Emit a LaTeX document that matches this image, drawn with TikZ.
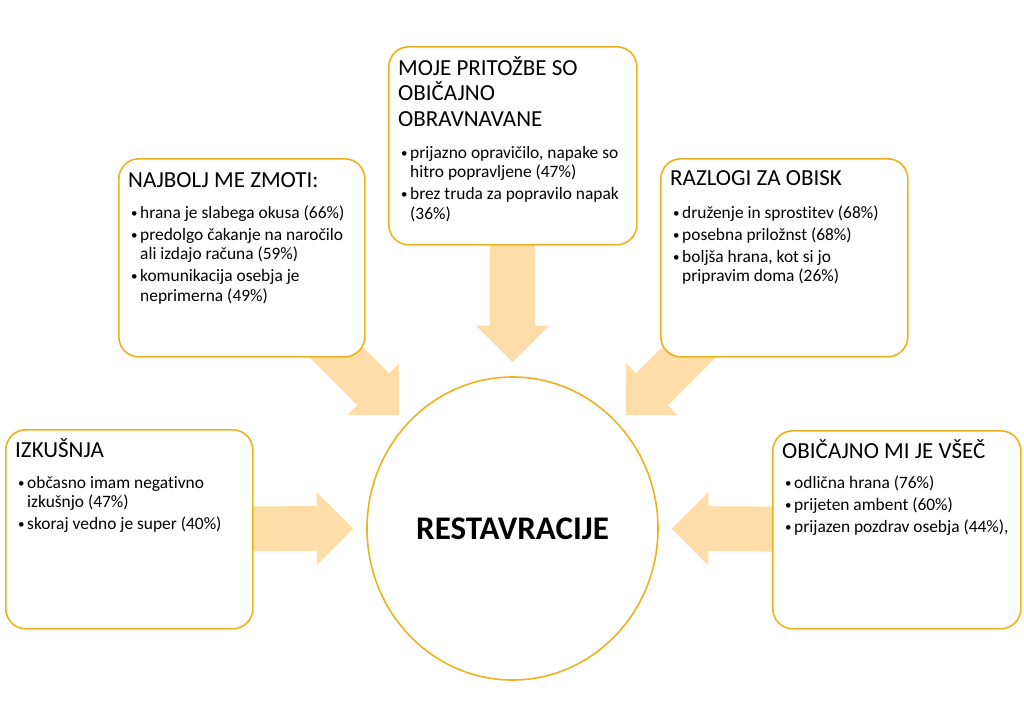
\documentclass[tikz,border=0pt]{standalone}
\usepackage{fontspec}
\setmainfont{Carlito}[Ligatures=NoCommon]
\usetikzlibrary{calc,shapes.geometric,backgrounds}

\definecolor{rim}{HTML}{EEB21F}
\definecolor{peach}{HTML}{FFDDA8}

\tikzset{
  card/.style={draw=rim, line width=1.6pt, fill=white, rounded corners=20pt,
    anchor=north west, inner sep=0pt},
  head/.style={anchor=north west, inner sep=0pt, align=left,
    font=\fontsize{23}{25.5}\selectfont},
  items/.style={anchor=north west, inner sep=0pt, align=left,
    font=\fontsize{17.4}{19.5}\selectfont},
  hub/.style={ellipse, draw=rim, line width=1.6pt, fill=white, inner sep=0pt,
    minimum width=291pt, minimum height=303pt,
    font=\fontsize{33}{38}\selectfont\bfseries}
}

\newcommand{\blt}{\makebox[9pt][l]{\raisebox{1pt}{\fontsize{13}{13}\selectfont\textbullet}}}
\newcommand{\ind}{\makebox[9pt]{}}
\newcommand{\hd}{\rule{0pt}{20pt}}
\newcommand{\ft}{\rule{0pt}{16pt}}
% fat arrow from #1 to tip #2
\newcommand{\fatarrow}[2]{%
  \coordinate (hb) at ($(#2)!36.5pt!(#1)$);
  \fill[peach] ($(#1)!22.5pt!90:(#2)$) -- ($(hb)!22.5pt!90:(#2)$)
    -- ($(hb)!36.5pt!90:(#2)$) -- (#2) -- ($(hb)!36.5pt!-90:(#2)$)
    -- ($(hb)!22.5pt!-90:(#2)$) -- ($(#1)!22.5pt!-90:(#2)$) -- cycle;
}

\begin{document}
\begin{tikzpicture}[x=1pt, y=-1pt]
  \useasboundingbox (0,0) rectangle (1024,726);

  % centre
  \node[hub] (hub) at (512.5,528.5) {RESTAVRACIJE};

  % cards
  \node[card, minimum width=246pt, minimum height=198pt] (najbolj) at (118,158) {};
  \node[card, minimum width=248pt, minimum height=198pt] (moje) at (388,46) {};
  \node[card, minimum width=247pt, minimum height=198pt] (razlogi) at (660,158) {};
  \node[card, minimum width=247pt, minimum height=199pt] (izkusnja) at (5,429) {};
  \node[card, minimum width=248pt, minimum height=198pt] (obicajno) at (772,430) {};

  \node[head] at ($(najbolj.north west)+(10,9)$) {\hd NAJBOLJ ME ZMOTI:};
  \node[items] at ($(najbolj.north west)+(13,44)$) {\ft\blt hrana je slabega okusa (66\%)\\[2.5pt]
    \blt predolgo čakanje na naročilo\\ \ind ali izdajo računa (59\%)\\[2.5pt]
    \blt komunikacija osebja je\\ \ind neprimerna (49\%)};

  \node[head] at ($(moje.north west)+(10,9)$) {\hd MOJE PRITOŽBE SO\\ OBIČAJNO\\ OBRAVNAVANE};
  \node[items] at ($(moje.north west)+(13,96)$) {\ft\blt prijazno opravičilo, napake so\\ \ind hitro popravljene (47\%)\\[2.5pt]
    \blt brez truda za popravilo napak\\ \ind (36\%)};

  \node[head] at ($(razlogi.north west)+(10,7)$) {\hd RAZLOGI ZA OBISK};
  \node[items] at ($(razlogi.north west)+(13,44)$) {\ft\blt druženje in sprostitev (68\%)\\[2.5pt]
    \blt posebna priložnst (68\%)\\[2.5pt]
    \blt boljša hrana, kot si jo\\ \ind pripravim doma (26\%)};

  \node[head] at ($(izkusnja.north west)+(10,8)$) {\hd IZKUŠNJA};
  \node[items] at ($(izkusnja.north west)+(13,43)$) {\ft\blt občasno imam negativno\\ \ind izkušnjo (47\%)\\[2.5pt]
    \blt skoraj vedno je super (40\%)};

  \node[head] at ($(obicajno.north west)+(10,8)$) {\hd OBIČAJNO MI JE VŠEČ};
  \node[items] at ($(obicajno.north west)+(13,42)$) {\ft\blt odlična hrana (76\%)\\[2.5pt]
    \blt prijeten ambent (60\%)\\[2.5pt]
    \blt prijazen pozdrav osebja (44\%),};

  % arrows behind everything
  \begin{scope}[on background layer]
    \coordinate (tipW) at ($(hub.west)+(-13,0)$);
    \coordinate (tipE) at ($(hub.east)+(13,0)$);
    \coordinate (tipN) at ($(hub.north)+(0,-14)$);
    \coordinate (tipNW) at ($(hub.center)+(-113.5,-113.5)$);
    \coordinate (tipNE) at ($(hub.center)+(113.5,-113.5)$);
    \coordinate (tailNW) at ($(najbolj.south east)+(-64,-40)$);
    \coordinate (tailNE) at ($(razlogi.south west)+(64,-40)$);
    \fatarrow{izkusnja.center}{tipW}
    \fatarrow{obicajno.center}{tipE}
    \fatarrow{moje.center}{tipN}
    \fatarrow{tailNW}{tipNW}
    \fatarrow{tailNE}{tipNE}
  \end{scope}
\end{tikzpicture}
\end{document}
